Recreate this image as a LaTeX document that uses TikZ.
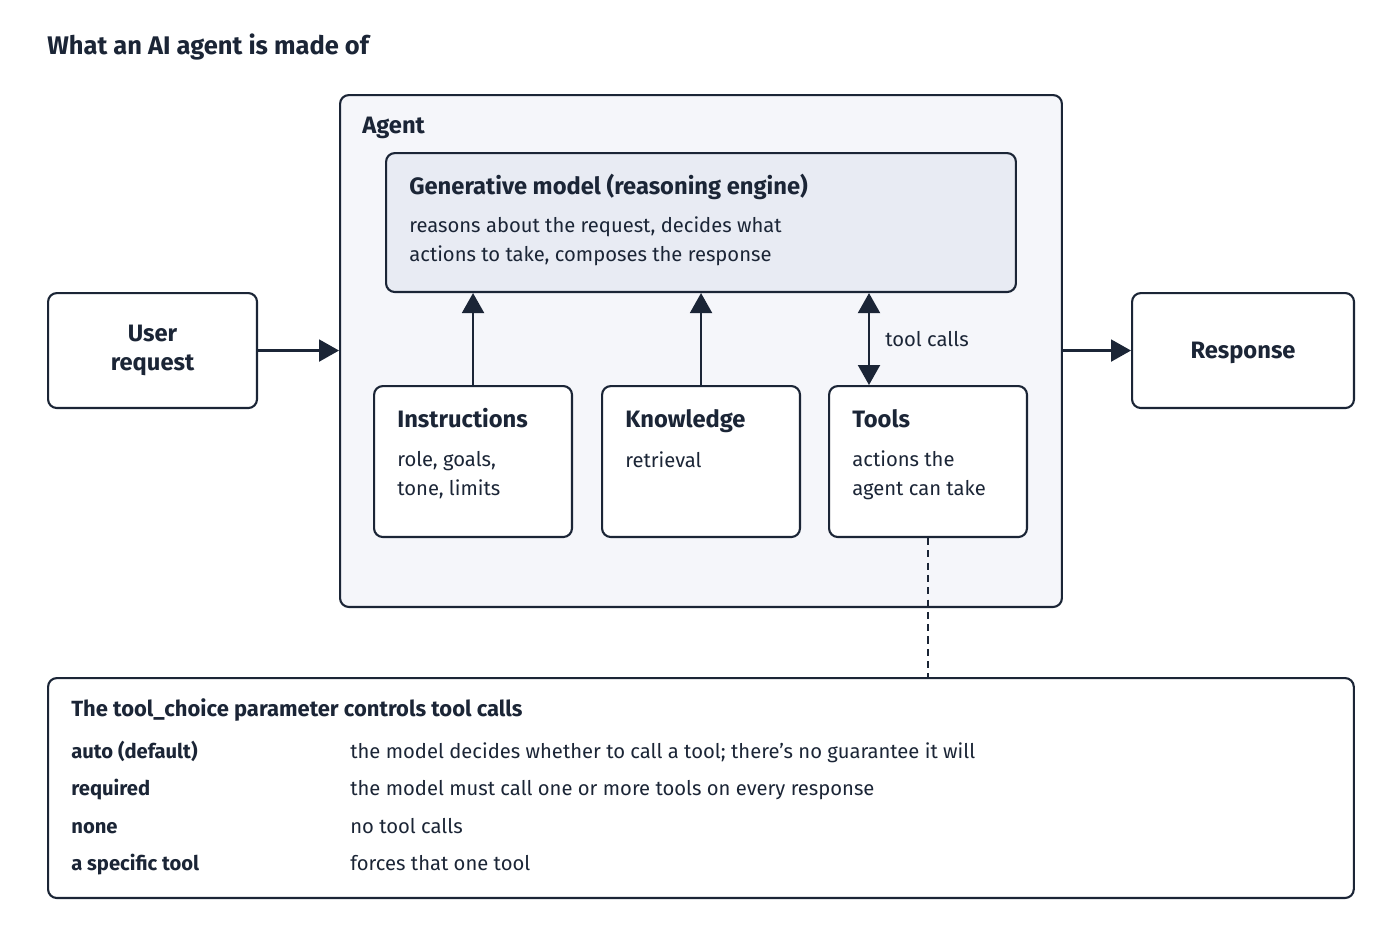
\documentclass[tikz,border=0pt]{standalone}
\usepackage{fontspec}
\setmainfont{Fira Sans}
\usetikzlibrary{arrows.meta,positioning,calc}
\definecolor{navy}{HTML}{1B2536}
\definecolor{agentbg}{HTML}{F5F6FA}
\definecolor{modelbg}{HTML}{E8EBF3}
\tikzset{
  box/.style={draw=navy, line width=1.2pt, rounded corners=5pt, fill=white, anchor=north west, inner sep=0pt},
  head/.style={anchor=base west, font=\fontsize{13.5}{15}\selectfont\bfseries, text=navy, inner sep=0pt},
  body/.style={anchor=base west, font=\fontsize{11.5}{16}\selectfont, text=navy, align=left, inner sep=0pt},
  arr/.style={draw=navy, line width=1.2pt, -{Triangle[length=4mm,width=4.4mm]}},
}
\begin{document}
\begin{tikzpicture}[x=0.02cm,y=-0.02cm]
  \useasboundingbox (0,0) rectangle (1400,933);
  \node[head, font=\fontsize{14.5}{16}\selectfont\bfseries] (title) at (47,54) {What an AI agent is made of};

  % agent frame and model
  \node[box, fill=agentbg, minimum width=14.44cm, minimum height=10.24cm] (agent) at (339,94) {};
  \node[head] (agentlbl) at (362,133) {Agent};
  \node[box, fill=modelbg, minimum width=12.6cm, minimum height=2.78cm] (gen) at (385,152) {};
  \node[head] (genlbl) at (409,194) {Generative model (reasoning engine)};
  \node[body] (gentxt) at (409,261) {reasons about the request, decides what\\actions to take, composes the response};

  % outside boxes
  \node[box, minimum width=4.18cm, minimum height=2.3cm] (user) at (47,292) {};
  \node[font=\fontsize{13.5}{16.5}\selectfont\bfseries, text=navy, align=center] (userlbl) at (user.center) {User\\request};
  \node[box, minimum width=4.44cm, minimum height=2.3cm] (resp) at (1131,292) {};
  \node[font=\fontsize{13.5}{16}\selectfont\bfseries, text=navy] (resplbl) at ($(resp.center)+(0,2)$) {Response};

  % parts
  \node[box, minimum width=3.96cm, minimum height=3.02cm] (instr) at (373,385) {};
  \node[head] (instrlbl) at (397,427) {Instructions};
  \node[body] (instrtxt) at (397,495) {role, goals,\\tone, limits};
  \node[box, minimum width=3.96cm, minimum height=3.02cm] (know) at (601,385) {};
  \node[head] (knowlbl) at (625,427) {Knowledge};
  \node[body] (knowtxt) at (625,467) {retrieval};
  \node[box, minimum width=3.96cm, minimum height=3.02cm] (tools) at (828,385) {};
  \node[head] (toolslbl) at (852,427) {Tools};
  \node[body] (toolstxt) at (852,495) {actions the\\agent can take};

  % connectors
  \draw[arr] (user.east) -- (user.east -| agent.west);
  \draw[arr] (agent.east |- resp.west) -- (resp.west);
  \draw[arr] (instr.north) -- (instr.north |- gen.south);
  \draw[arr] (know.north) -- (know.north |- gen.south);
  \coordinate (tcall) at ($(tools.north west)+(41,0)$);
  \draw[arr, {Triangle[length=4mm,width=4.4mm]}-{Triangle[length=4mm,width=4.4mm]}] (tcall) -- (tcall |- gen.south);
  \node[body] (tcalllbl) at (885,346) {tool calls};

  % tool_choice table
  \node[box, minimum width=26.12cm, minimum height=4.4cm] (choice) at (47,677) {};
  \draw[navy, line width=0.8pt, dash pattern=on 4pt off 3pt] (tools.south) -- (tools.south |- choice.north);
  \node[head, font=\fontsize{12.5}{14}\selectfont\bfseries] (choicelbl) at (71,716) {The tool\_choice parameter controls tool calls};
  \foreach \y/\k/\v [count=\i] in {758/auto (default)/{the model decides whether to call a tool; there's no guarantee it will},
      795/required/the model must call one or more tools on every response,
      833/none/no tool calls,
      870/a specific tool/forces that one tool} {
    \node[head, font=\fontsize{11.5}{13}\selectfont\bfseries] (key\i) at (71,\y) {\k};
    \node[head, font=\fontsize{11.5}{13}\selectfont] (val\i) at (350,\y) {\v};
  }
\end{tikzpicture}
\end{document}
